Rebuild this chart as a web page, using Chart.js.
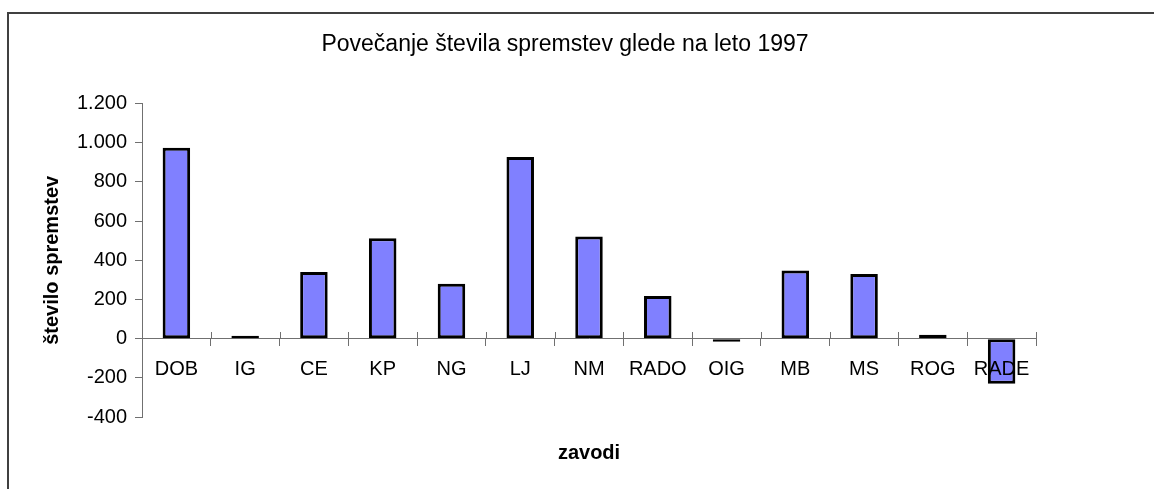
<!DOCTYPE html>
<html>
<head>
<meta charset="utf-8">
<script src="https://cdn.jsdelivr.net/npm/chart.js@4.4.1/dist/chart.umd.min.js"></script>
<style>
  html, body { margin: 0; padding: 0; background: #fff; overflow: hidden; }
  #frame {
    position: absolute; left: 7px; top: 12px; width: 1300px; height: 700px;
    border: 2px solid #404040; box-sizing: border-box;
  }
  #wrap { position: absolute; left: 0; top: 0; width: 1154px; height: 489px; }
</style>
</head>
<body>
<div id="frame"></div>
<div id="wrap"><canvas id="chart" width="1154" height="489"></canvas></div>
<script>
// zavodi in povečanje števila spremstev glede na leto 1997
const labels = ["DOB", "IG", "CE", "KP", "NG", "LJ", "NM", "RADO", "OIG", "MB", "MS", "ROG", "RADE"];
const increase = [975, 5, 340, 513, 280, 927, 522, 218, -8, 348, 330, 20, -230];
const yTicks = { min: -400, max: 1200, step: 200 };

const AXIS = "#707070";
const FONT = "'Liberation Sans', Arial, sans-serif";

function fmt(v) {
  let s = Math.abs(v).toString().replace(/\B(?=(\d{3})+(?!\d))/g, ".");
  return (v < 0 ? "-" : "") + s;
}

// tick marks on the zero line cross it (Excel style)
const crossTicks = {
  id: "crossTicks",
  afterDraw(chart) {
    const x = chart.scales.x;
    const zero = Math.round(chart.scales.y.getPixelForValue(0));
    const ctx = chart.ctx;
    ctx.save();
    ctx.strokeStyle = AXIS;
    ctx.lineWidth = 1;
    for (let i = 0; i <= labels.length; i++) {
      const px = Math.round(x.getPixelForValue(i - 0.5)) + 0.5;
      ctx.beginPath();
      ctx.moveTo(px, zero - 7);
      ctx.lineTo(px, zero);
      ctx.stroke();
    }
    ctx.restore();
  },
};

new Chart(document.getElementById("chart"), {
  type: "bar",
  data: {
    labels: labels,
    datasets: [
      {
        data: increase,
        xAxisID: "x",
        yAxisID: "y",
        backgroundColor: "#8080FF",
        borderColor: "#000000",
        borderWidth: 3,
        borderSkipped: false,
        minBarLength: 3,
        barPercentage: 0.4,
        categoryPercentage: 1.0,
      },
    ],
  },
  options: {
    responsive: false,
    animation: false,
    layout: { padding: { left: 0, right: 24, top: 0, bottom: 0 } },
    plugins: {
      legend: { display: false },
      tooltip: { enabled: false },
      title: {
        display: true,
        text: "Povečanje števila spremstev glede na leto 1997",
        color: "#000",
        font: { family: FONT, size: 23, weight: "normal" },
        padding: { top: 31, bottom: 45 },
      },
    },
    scales: {
      x: {
        type: "category",
        position: { y: 0 },
        offset: true,
        grid: {
          display: true,
          drawOnChartArea: false,
          drawTicks: true,
          tickLength: 7,
          color: AXIS,
          offset: true,
        },
        border: { display: true, color: AXIS, width: 1 },
        ticks: {
          z: 1,
          color: "#000",
          font: { family: FONT, size: 20 },
          padding: 12,
          maxRotation: 0,
          autoSkip: false,
        },
      },
      x2: {
        type: "category",
        position: "bottom",
        grid: { display: false },
        border: { display: false },
        ticks: { display: false },
        title: {
          display: true,
          text: "zavodi",
          color: "#000",
          font: { family: FONT, size: 20, weight: "bold" },
          padding: { top: 16, bottom: 24 },
        },
      },
      y: {
        type: "linear",
        position: "left",
        min: yTicks.min,
        max: yTicks.max,
        grid: {
          display: true,
          drawOnChartArea: false,
          drawTicks: true,
          tickLength: 7,
          color: AXIS,
        },
        border: { display: true, color: AXIS, width: 1 },
        ticks: {
          stepSize: yTicks.step,
          color: "#000",
          font: { family: FONT, size: 20 },
          padding: 8,
          callback: (v) => fmt(v),
        },
        title: {
          display: true,
          text: "število spremstev",
          color: "#000",
          font: { family: FONT, size: 20, weight: "bold" },
          padding: { top: 40, bottom: 0 },
        },
        afterFit: (s) => { s.width = 142; },
      },
      yR: {
        type: "linear",
        position: "right",
        grid: { display: false },
        border: { display: false },
        ticks: { display: false },
        afterFit: (s) => { s.width = 94; },
      },
    },
  },
  plugins: [crossTicks],
});
</script>
</body>
</html>
